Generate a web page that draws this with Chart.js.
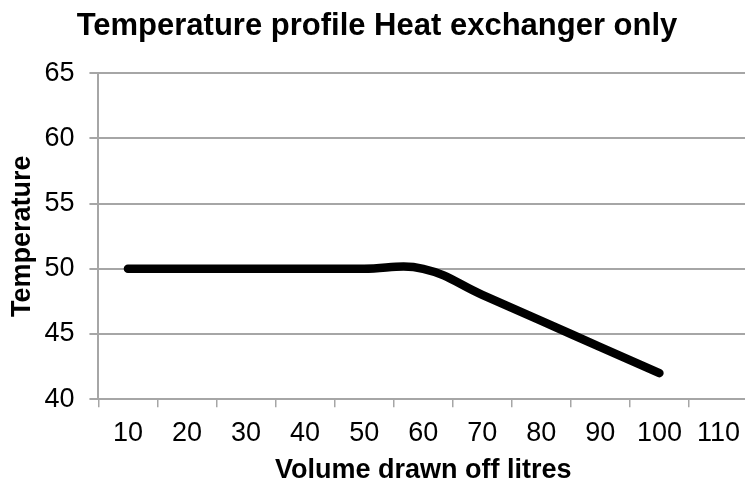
<!DOCTYPE html>
<html>
<head>
<meta charset="utf-8">
<script src="https://cdn.jsdelivr.net/npm/chart.js@4/dist/chart.umd.min.js"></script>
<style>
  html, body { margin: 0; padding: 0; background: #fff; overflow: hidden; }
  /* the original plot runs a few pixels past the right edge */
  #wrap { width: 748px; height: 483px; }
</style>
</head>
<body>
<div id="wrap"><canvas id="myChart"></canvas></div>
<script>
'use strict';

// volume drawn off (litres) on the x axis
const volumes = ['10', '20', '30', '40', '50', '60', '70', '80', '90', '100', '110'];
// temperature, nothing drawn at 110
const temperatures = [50, 50, 50, 50, 50, 50, 48, 46, 44, 42, null];

const yMin = 40;
const yMax = 65;
const yStep = 5;

const gridGrey = '#a6a6a6';
const font = 'Liberation Sans, Arial, Helvetica, sans-serif';

const ctx = document.getElementById('myChart');

new Chart(ctx, {
    type: 'line',
    data: {
        labels: volumes,
        datasets: [{
            label: 'Temperature',
            data: temperatures,
            borderColor: '#000',
            backgroundColor: '#000',
            borderWidth: 8.5,
            borderCapStyle: 'round',
            borderJoinStyle: 'round',
            tension: 0.4,
            pointRadius: 0,
            spanGaps: false
        }]
    },
    options: {
        responsive: true,
        maintainAspectRatio: false,
        animation: false,
        layout: {
            padding: { left: 6, right: 0, top: 8, bottom: -3.5 }
        },
        plugins: {
            legend: { display: false },
            tooltip: { enabled: false },
            title: {
                display: true,
                text: 'Temperature profile Heat exchanger only',
                color: '#000',
                font: { family: font, size: 31, weight: 'bold' },
                padding: { top: 0, bottom: 28 }
            }
        },
        scales: {
            x: {
                offset: true,
                // let the last category run out to the edge
                afterFit: (scale) => { scale.paddingRight = 0; },
                grid: {
                    offset: true,
                    drawOnChartArea: false,
                    drawTicks: true,
                    tickLength: 8,
                    color: gridGrey,
                    lineWidth: 1.5
                },
                border: { display: true, color: gridGrey, width: 2 },
                ticks: {
                    color: '#000',
                    font: { family: font, size: 27 },
                    padding: 10,
                    maxRotation: 0,
                    autoSkip: false
                },
                title: {
                    display: true,
                    text: 'Volume drawn off litres',
                    color: '#000',
                    font: { family: font, size: 27, weight: 'bold' },
                    padding: { top: -5.5, bottom: 0 }
                }
            },
            y: {
                min: yMin,
                max: yMax,
                grid: {
                    color: gridGrey,
                    lineWidth: 2,
                    drawTicks: true,
                    tickLength: 9
                },
                border: { display: true, color: gridGrey, width: 2 },
                ticks: {
                    stepSize: yStep,
                    color: '#000',
                    font: { family: font, size: 27 },
                    padding: 15
                },
                title: {
                    display: true,
                    text: 'Temperature',
                    color: '#000',
                    font: { family: font, size: 27, weight: 'bold' },
                    padding: { top: 0, bottom: -9 }
                }
            }
        }
    }
});
</script>
</body>
</html>
